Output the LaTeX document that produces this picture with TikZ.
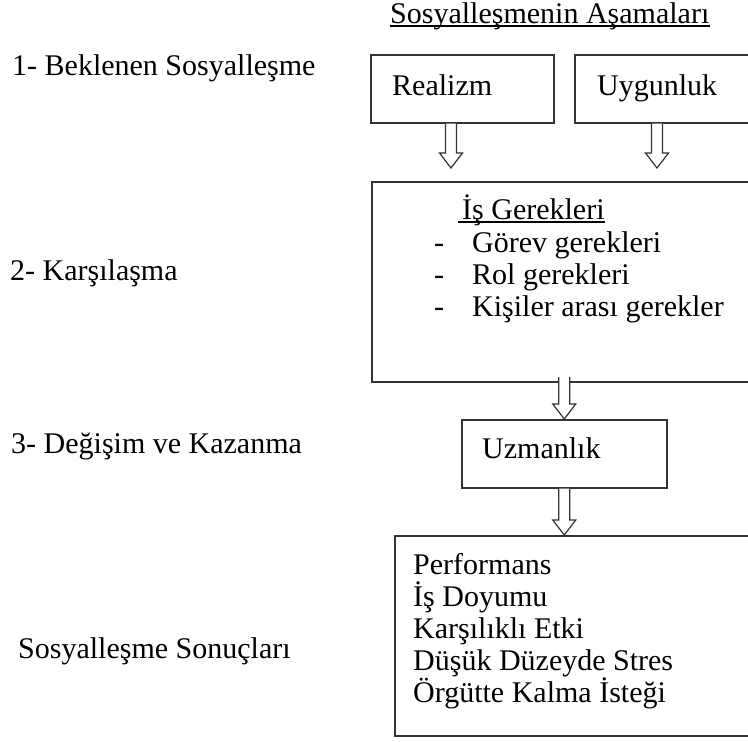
\documentclass[tikz,border=0pt]{standalone}
\usepackage{fontspec}
\setmainfont{Liberation Serif}
\usetikzlibrary{calc}
% hollow block arrow from point #1 down to point #2 (x taken from #1)
\newcommand\holarrow[2]{%
  \draw[hol] let \p1=#1, \p2=#2 in
    (\x1-5.5pt,\y1) -- (\x1-5.5pt,\y2+15pt) -- (\x1-11.5pt,\y2+15pt) -- (\x1,\y2)
    -- (\x1+11.5pt,\y2+15pt) -- (\x1+5.5pt,\y2+15pt) -- (\x1+5.5pt,\y1);}
\begin{document}
\begin{tikzpicture}[x=1pt,y=-1pt,font=\fontsize{30}{36}\selectfont,
  txt/.style={anchor=base west,inner sep=0pt},
  box/.style={draw=black!80,line width=1.5pt,anchor=north west,inner sep=0pt},
  hol/.style={draw=black!80,line width=1.2pt,fill=white,line join=miter}]
\useasboundingbox (0,0) rectangle (748,742);

% stages on the left
\node[txt] (bek) at (12,75) {1- Beklenen Sosyalleşme};
\node[txt] (kar) at (10,280) {2- Karşılaşma};
\node[txt] (deg) at (11,453) {3- Değişim ve Kazanma};
\node[txt] (son) at (18,658) {Sosyalleşme Sonuçları};

% title
\node[txt] (baslik) at (390,23) {Sosyalleşmenin Aşamaları};
\draw[line width=1.2pt] ([yshift=-3pt]baslik.base west) -- ([yshift=-3pt]baslik.base east);

% boxes
\node[box,minimum width=183pt,minimum height=68pt] (realizm) at (370,54) {};
\node[box,minimum width=190pt,minimum height=68pt] (uygun) at (574,54) {};
\node[box,minimum width=390pt,minimum height=200pt] (isger) at (371,181) {};
\node[box,minimum width=205pt,minimum height=68pt] (uzman) at (461,419) {};
\node[box,minimum width=370pt,minimum height=200pt] (sonuc) at (394,535) {};

% texts in the boxes
\node[txt] (realizmT) at (392,95) {Realizm};
\node[txt] (uygunT) at (597,95) {Uygunluk};
\node[txt] (isgerT) at (462,219) {İş Gerekleri};
\draw[line width=1.2pt] ([yshift=-3pt]isgerT.base west) ++(-4,0) -- ([yshift=-3pt]isgerT.base east);
\node[txt] (d1) at (434,252) {-};
\node[txt] (gorev) at (472,252) {Görev gerekleri};
\node[txt] (d2) at (434,284) {-};
\node[txt] (rol) at (472,284) {Rol gerekleri};
\node[txt] (d3) at (434,316) {-};
\node[txt] (kisi) at (472,316) {Kişiler arası gerekler};
\node[txt] (uzmanT) at (482,458) {Uzmanlık};
\node[txt] (perf) at (413,574) {Performans};
\node[txt] (doyum) at (413,606) {İş Doyumu};
\node[txt] (etki) at (413,638) {Karşılıklı Etki};
\node[txt] (stres) at (413,670) {Düşük Düzeyde Stres};
\node[txt] (kalma) at (413,702) {Örgütte Kalma İsteği};

% arrows
\holarrow{($(realizm.south west)+(81,0)$)}{($(isger.north)+(0,-13)$)}
\holarrow{($(uygun.south west)+(83,0)$)}{($(isger.north)+(0,-13)$)}
\holarrow{($(uzman.north)+(0,-42)$)}{(uzman.north)}
\holarrow{(uzman.south)}{(sonuc.north -| uzman.south)}
\end{tikzpicture}
\end{document}
